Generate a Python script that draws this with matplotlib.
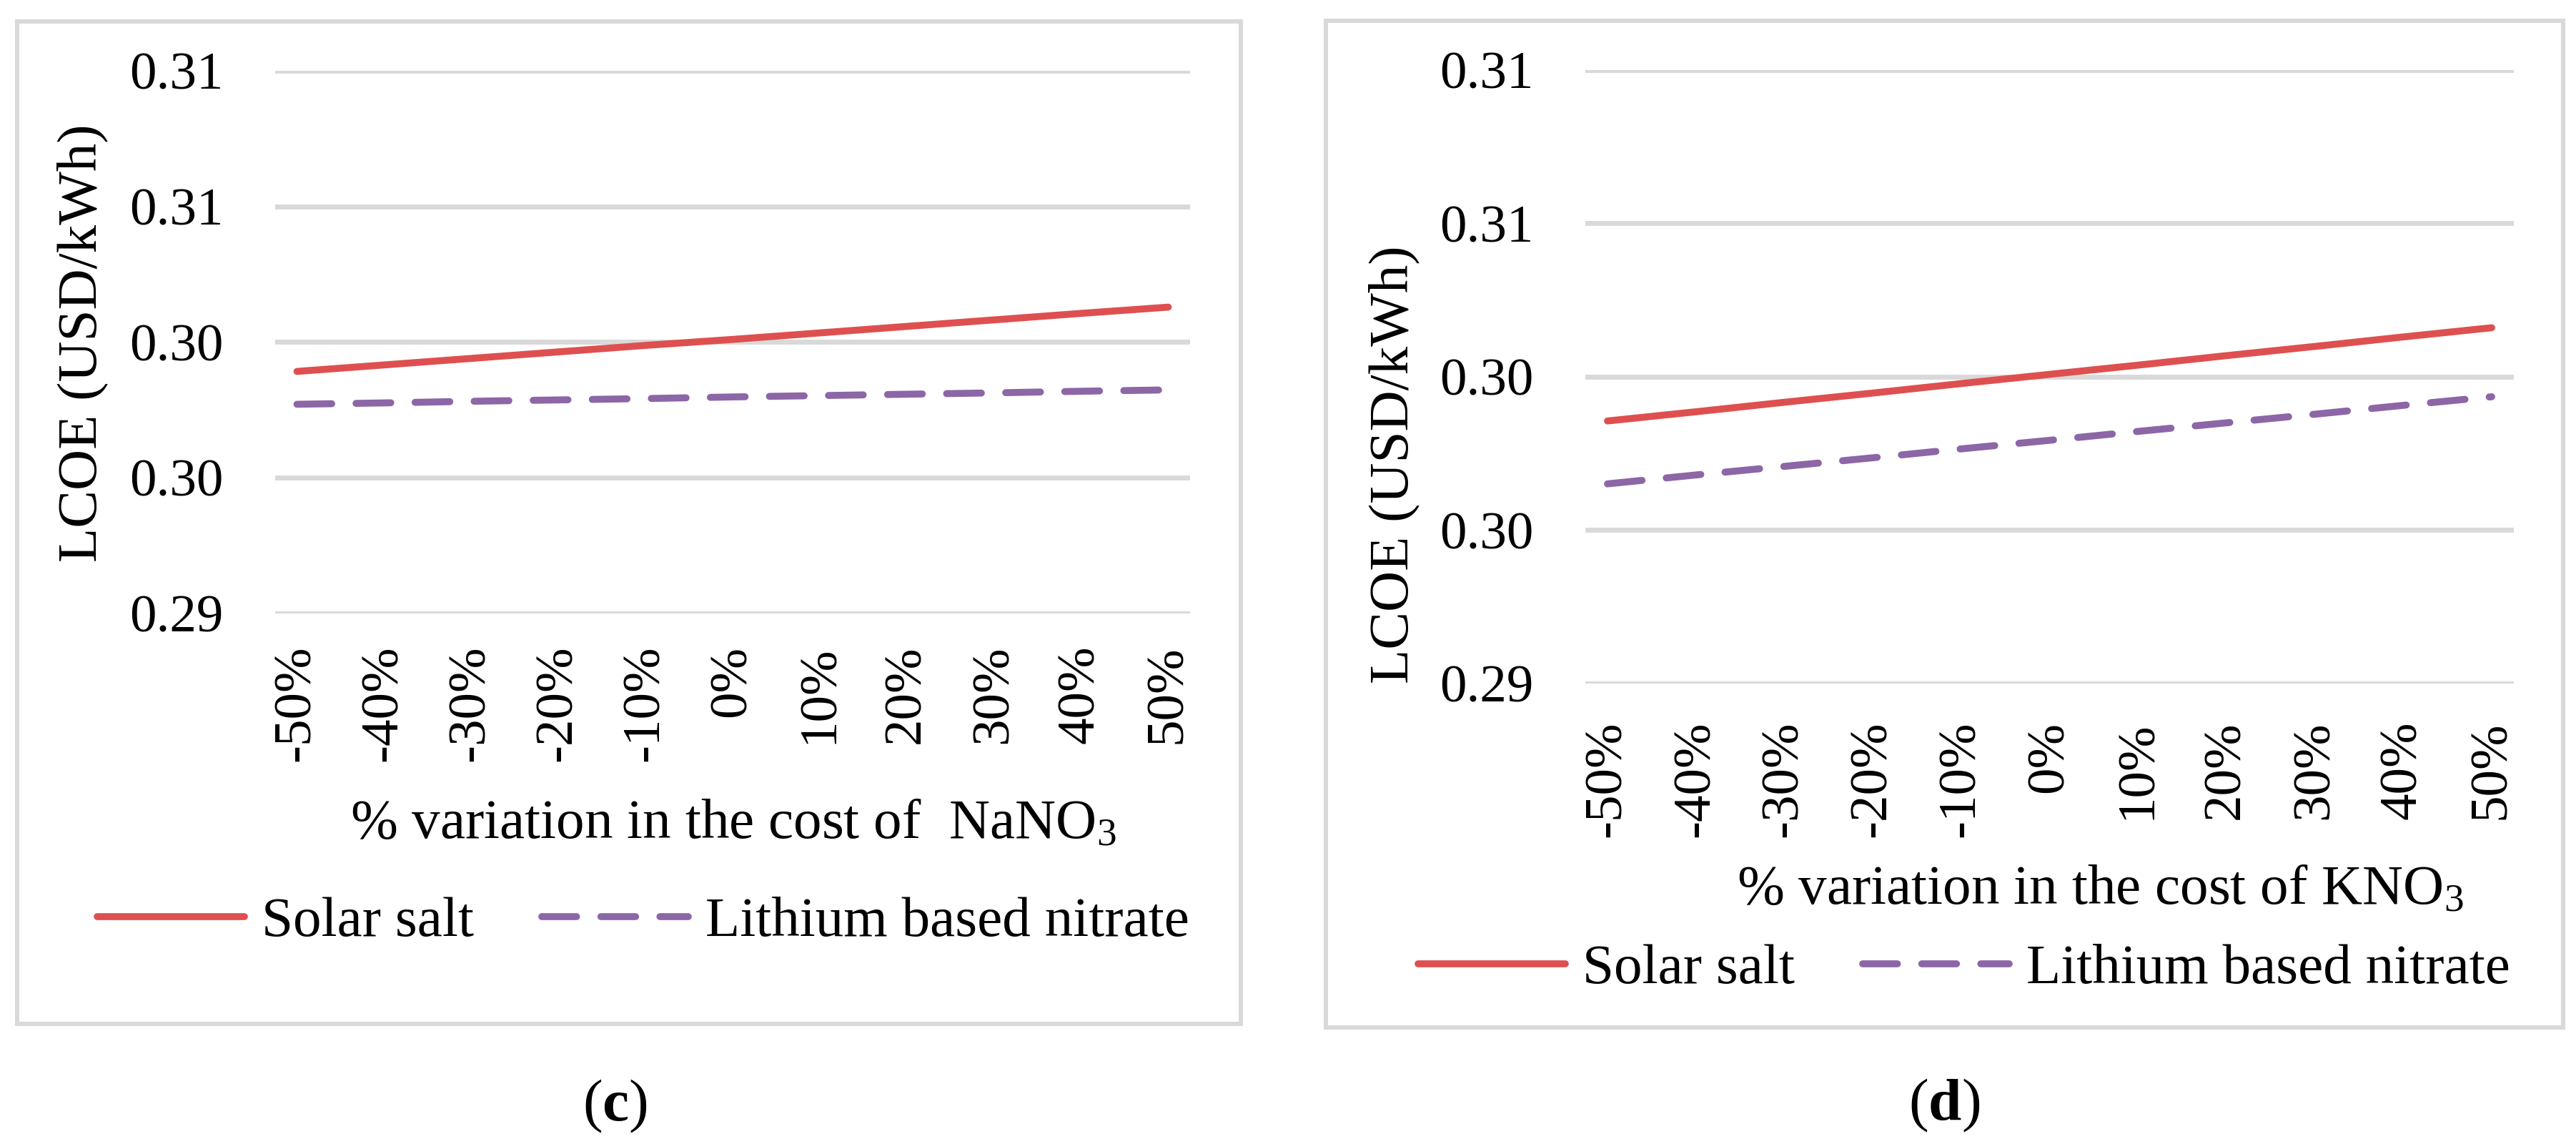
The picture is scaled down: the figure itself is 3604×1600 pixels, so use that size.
import matplotlib
matplotlib.use("Agg")
import matplotlib.pyplot as plt
from matplotlib.patches import Rectangle

plt.rcParams['font.family'] = ['Liberation Serif', 'DejaVu Serif']
plt.rcParams['mathtext.fontset'] = 'custom'
plt.rcParams['mathtext.rm'] = 'Liberation Serif'
plt.rcParams['mathtext.it'] = 'Liberation Serif:italic'
plt.rcParams['mathtext.bf'] = 'Liberation Serif:bold'

# Datos
categories = ['-50%', '-40%', '-30%', '-20%', '-10%', '0%',
              '10%', '20%', '30%', '40%', '50%']
y_ticks = [0.290, 0.295, 0.300, 0.305, 0.310]
y_tick_labels = ['0.29', '0.30', '0.30', '0.31', '0.31']

# (c) variacion NaNO3
c_solar = [0.29892, 0.29916, 0.29940, 0.29964, 0.29988, 0.30010,
           0.30034, 0.30058, 0.30082, 0.30106, 0.30129]
c_lithium = [0.29771, 0.29776, 0.29782, 0.29787, 0.29792, 0.29798,
             0.29803, 0.29808, 0.29813, 0.29819, 0.29824]

# (d) variacion KNO3
d_solar = [0.29856, 0.29886, 0.29917, 0.29947, 0.29978, 0.30008,
           0.30038, 0.30069, 0.30099, 0.30130, 0.30160]
d_lithium = [0.29651, 0.29680, 0.29708, 0.29736, 0.29765, 0.29793,
             0.29822, 0.29850, 0.29878, 0.29907, 0.29935]

W, H = 3604, 1600
RED = '#DE5050'
PURPLE = '#8C66A6'
GRID = '#D9D9D9'
FS = 57
TFS = 54

fig = plt.figure(figsize=(W / 100, H / 100), dpi=100)


def px_axes(x0, y0, x1, y1):
    # coordenadas en pixeles (origen arriba a la izquierda)
    return fig.add_axes([x0 / W, 1 - y1 / H, (x1 - x0) / W, (y1 - y0) / H])


def frame(x0, y0, x1, y1):
    fig.patches.append(Rectangle((x0 / W, 1 - y1 / H), (x1 - x0) / W, (y1 - y0) / H,
                                 transform=fig.transFigure, fill=False,
                                 edgecolor=GRID, linewidth=4.3, zorder=0))


def panel(ax, solar, lithium, xpad):
    x = list(range(len(categories)))
    ax.plot(x, solar, color=RED, lw=7, solid_capstyle='round', label='Solar salt')
    ax.plot(x, lithium, color=PURPLE, lw=7, dashes=(5, 3.5),
            dash_capstyle='round', label='Lithium based nitrate')
    ax.set_xlim(-0.25, 10.25)
    ax.set_ylim(0.290, 0.310)
    ax.set_yticks(y_ticks)
    ax.set_yticklabels(y_tick_labels)
    ax.set_xticks(x)
    ax.set_xticklabels(categories, rotation=90)
    ax.grid(axis='y', color=GRID, lw=5)
    ax.set_axisbelow(True)
    for s in ax.spines.values():
        s.set_visible(False)
    ax.tick_params(axis='y', length=0, pad=52, labelsize=TFS)
    ax.tick_params(axis='x', length=0, pad=xpad, labelsize=TFS)
    ax.patch.set_alpha(0)


frame(24, 30, 1736, 1432)
frame(1855, 29, 3586, 1437)

ax1 = px_axes(385, 99, 1665, 858)
panel(ax1, c_solar, c_lithium, 32)
ax2 = px_axes(2218, 98, 3517, 956)
panel(ax2, d_solar, d_lithium, 38)

fig.text(115 / W, 1 - 480 / H, 'LCOE (USD/kWh)', rotation=90, fontsize=FS,
         ha='center', va='center')
fig.text(1950 / W, 1 - 650 / H, 'LCOE (USD/kWh)', rotation=90, fontsize=FS,
         ha='center', va='center')

fig.text(1026 / W, 1 - 1173 / H, r'% variation in the cost of  NaNO$_3$',
         fontsize=FS, ha='center', va='baseline')
fig.text(2938 / W, 1 - 1265 / H, r'% variation in the cost of KNO$_3$',
         fontsize=FS, ha='center', va='baseline')

for ax, cx, cy in [(ax1, 900, 1290), (ax2, 2748, 1356)]:
    ax.legend(loc='center', bbox_to_anchor=(cx / W, 1 - cy / H),
              bbox_transform=fig.transFigure, ncol=2, frameon=False,
              fontsize=FS, handlelength=2.6, handletextpad=0.3,
              columnspacing=1.2, borderpad=0, borderaxespad=0)

fig.text(860 / W, 1 - 1547 / H, r'($\mathbf{c}$)', fontsize=60,
         ha='center', va='center')
fig.text(2720 / W, 1 - 1546 / H, r'($\mathbf{d}$)', fontsize=60,
         ha='center', va='center')

fig.savefig('out.png', dpi=100, facecolor='white')
